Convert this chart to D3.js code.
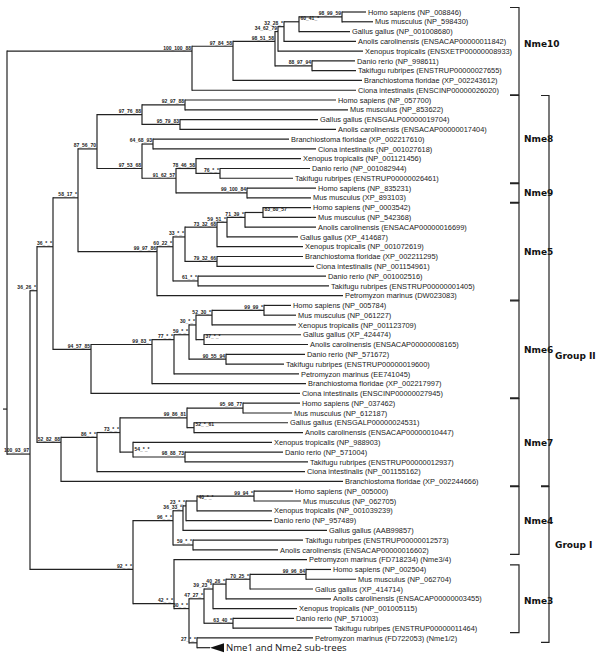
<!DOCTYPE html>
<html lang="en">
<head>
<meta charset="UTF-8">
<title>Nme phylogeny</title>
<script src="https://cdnjs.cloudflare.com/ajax/libs/d3/7.8.5/d3.min.js"></script>
<style>
  body { margin: 0; background: #fff; }
  svg { display: block; }
</style>
</head>
<body>
<script>
// internal nodes: id, parent, distance from root, bootstrap label, label side
var internalNodes = [
  ["root", "", 0, ""],
  ["A", "root", 1.85, "100_100_88"],
  ["A1", "A", 2.26, "97_84_58"],
  ["A2", "A1", 2.68, "98_51_58"],
  ["A3", "A2", 2.71, "34_62_79"],
  ["A4", "A3", 2.77, "32_28_*"],
  ["A5", "A4", 2.92, "60_41_*", "r"],
  ["A6", "A5", 3.35, "98_99_59"],
  ["A7", "A2", 3.05, "88_97_94"],
  ["B", "root", 0.23, "100_93_97"],
  ["C", "B", 0.30, "36_26_*"],
  ["D", "C", 0.46, "36_*_*"],
  ["E", "D", 0.71, "58_17_*"],
  ["F", "E", 0.90, "87_56_70"],
  ["F1", "F", 1.35, "97_76_88"],
  ["F2", "F1", 1.78, "92_97_88"],
  ["F3", "F1", 1.73, "95_79_83"],
  ["F4", "F", 1.35, "97_53_68"],
  ["F5", "F4", 1.46, "64_68_93"],
  ["F6", "F4", 1.69, "91_62_57"],
  ["F7", "F6", 1.89, "78_46_58"],
  ["F8", "F7", 2.13, "76_*_*"],
  ["F9", "F6", 2.40, "99_100_84"],
  ["G", "E", 1.50, "99_97_86"],
  ["G1", "G", 1.66, "60_22_*"],
  ["G2", "G1", 1.78, "33_*_*"],
  ["G3", "G2", 2.10, "73_32_68"],
  ["G4", "G3", 2.20, "59_51_*"],
  ["G5", "G4", 2.38, "71_39_*"],
  ["G6", "G5", 2.56, "83_80_57", "r"],
  ["G7", "G2", 2.10, "79_32_66"],
  ["G8", "G1", 1.91, "61_*_*"],
  ["H", "D", 0.84, "94_57_85"],
  ["H1", "H", 1.45, "99_83_*"],
  ["H2", "H1", 1.67, "77_*_*"],
  ["H3", "H2", 1.82, "59_*_*"],
  ["H4", "H3", 1.89, "30_*_*"],
  ["H5", "H4", 2.05, "52_30_*"],
  ["H6", "H5", 2.57, "99_99_*"],
  ["H7", "H4", 1.97, "37_*_*", "r"],
  ["H8", "H3", 2.19, "90_55_94"],
  ["I", "C", 0.54, "52_82_88"],
  ["I1", "I", 0.90, "86_*_*"],
  ["I2", "I1", 1.13, "73_*_*"],
  ["I3", "I2", 1.80, "99_86_81"],
  ["I4", "I3", 2.36, "95_98_77"],
  ["I5", "I3", 1.87, "52_*_61", "r"],
  ["I6", "I2", 1.26, "54_*_*", "r"],
  ["I7", "I6", 1.78, "98_88_73"],
  ["J", "B", 1.26, "92_*_*"],
  ["K", "J", 1.66, "96_*_*"],
  ["K1", "K", 1.76, "36_33_*"],
  ["K2", "K1", 1.79, "23_*_*"],
  ["K3", "K2", 1.90, "40_*_*", "r"],
  ["K4", "K3", 2.47, "99_94_*"],
  ["K5", "K", 1.86, "59_*_*"],
  ["L", "J", 1.67, "42_*_*"],
  ["L1", "L", 1.82, "30_*_*"],
  ["L2", "L1", 1.97, "47_27_*"],
  ["L3", "L2", 2.06, "39_23_*"],
  ["L4", "L3", 2.19, "40_26_*"],
  ["L5", "L4", 2.43, "70_25_*"],
  ["L6", "L5", 2.99, "99_96_84"],
  ["L7", "L2", 2.26, "63_40_*"],
  ["L8", "L1", 1.90, "27_*_*"]
];

var leafNames = [
  "Homo sapiens (NP_008846)", "Mus musculus (NP_598430)", "Gallus gallus (NP_001008680)",
  "Anolis carolinensis (ENSACAP00000011842)", "Xenopus tropicalis (ENSXETP00000008933)",
  "Danio rerio (NP_998611)", "Takifugu rubripes (ENSTRUP00000027655)",
  "Branchiostoma floridae (XP_002243612)", "Ciona intestinalis (ENSCINP00000026020)",
  "Homo sapiens (NP_057700)", "Mus musculus (NP_853622)", "Gallus gallus (ENSGALP00000019704)",
  "Anolis carolinensis (ENSACAP00000017404)", "Branchiostoma floridae (XP_002217610)",
  "Ciona intestinalis (NP_001027618)", "Xenopus tropicalis (NP_001121456)",
  "Danio rerio (NP_001082944)", "Takifugu rubripes (ENSTRUP00000026461)",
  "Homo sapiens (NP_835231)", "Mus musculus (XP_893103)",
  "Homo sapiens (NP_0003542)", "Mus musculus (NP_542368)", "Anolis carolinensis (ENSACAP00000016699)",
  "Gallus gallus (XP_414687)", "Xenopus tropicalis (NP_001072619)", "Branchiostoma floridae (XP_002211295)",
  "Ciona intestinalis (NP_001154961)", "Danio rerio (NP_001002516)", "Takifugu rubripes (ENSTRUP00000001405)",
  "Petromyzon marinus (DW023083)",
  "Homo sapiens (NP_005784)", "Mus musculus (NP_061227)", "Xenopus tropicalis (NP_001123709)",
  "Gallus gallus (XP_424474)", "Anolis carolinensis (ENSACAP00000008165)", "Danio rerio (NP_571672)",
  "Takifugu rubripes (ENSTRUP00000019600)", "Petromyzon marinus (EE741045)",
  "Branchiostoma floridae (XP_002217997)", "Ciona intestinalis (ENSCINP00000027945)",
  "Homo sapiens (NP_037462)", "Mus musculus (NP_612187)", "Gallus gallus (ENSGALP00000024531)",
  "Anolis carolinensis (ENSACAP00000010447)", "Xenopus tropicalis (NP_988903)", "Danio rerio (NP_571004)",
  "Takifugu rubripes (ENSTRUP00000012937)", "Ciona intestinalis (NP_001155162)",
  "Branchiostoma floridae (XP_002244666)",
  "Homo sapiens (NP_005000)", "Mus musculus (NP_062705)", "Xenopus tropicalis (NP_001039239)",
  "Danio rerio (NP_957489)", "Gallus gallus (AAB99857)", "Takifugu rubripes (ENSTRUP00000012573)",
  "Anolis carolinensis (ENSACAP00000016602)", "Petromyzon marinus (FD718234) (Nme3/4)",
  "Homo sapiens (NP_002504)", "Mus musculus (NP_062704)", "Gallus gallus (XP_414714)",
  "Anolis carolinensis (ENSACAP00000003455)", "Xenopus tropicalis (NP_001005115)",
  "Danio rerio (NP_571003)", "Takifugu rubripes (ENSTRUP00000011464)",
  "Petromyzon marinus (FD722053) (Nme1/2)",
  "Nme1 and Nme2 sub-trees"
];

var leafParents = [
  "A6", "A6", "A5", "A4", "A3", "A7", "A7", "A1", "A",
  "F2", "F2", "F3", "F3", "F5", "F5", "F7", "F8", "F8", "F9", "F9",
  "G6", "G6", "G5", "G4", "G3", "G7", "G7", "G8", "G8", "G",
  "H6", "H6", "H5", "H7", "H7", "H8", "H8", "H2", "H1", "H",
  "I4", "I4", "I5", "I5", "I6", "I7", "I7", "I1", "I",
  "K4", "K4", "K3", "K2", "K1", "K5", "K5", "L",
  "L6", "L6", "L5", "L4", "L3", "L7", "L7", "L8", "L8"
];

// distance from root of every tip
var leafTips = [
  3.59, 3.66, 3.43, 3.49, 3.56, 3.48, 3.49, 3.55, 3.49,
  3.29, 3.41, 3.11, 3.29, 2.82, 3.09, 2.94, 3.03, 2.86, 3.09, 3.04,
  3.04, 3.09, 3.09, 2.91, 2.96, 2.96, 3.07, 3.19, 3.22, 3.36,
  2.84, 2.89, 2.89, 2.94, 3.01, 2.98, 2.77, 2.92, 2.99, 2.93,
  2.93, 2.85, 2.81, 2.96, 2.65, 2.76, 3.01, 2.98, 3.36,
  2.86, 2.94, 2.65, 2.65, 3.20, 2.96, 2.71, 3.00,
  3.24, 3.49, 3.06, 3.24, 2.90, 2.87, 3.25, 3.06, 2.03
];

var collapsedLeaf = "Nme1 and Nme2 sub-trees";

// a few nodes sit away from the mean of their tips (row units)
var rowOverride = { root: 40.6, B: 45.2 };

var cladeNames = ["Nme10", "Nme8", "Nme9", "Nme5", "Nme6", "Nme7", "Nme4", "Nme3"];
var cladeFirst = [0, 9, 18, 20, 30, 40, 49, 57];
var cladeLast = [8, 17, 19, 29, 39, 48, 55, 63];
var cladeLabelRow = [3.2, 13, 18.5, 24.5, 34.5, 44, 52, 60.2];

var groupNames = ["Group II", "Group I"];
var groupFirst = [9, 49];
var groupLast = [48, 64];
var groupLabelRow = [35.1, 54.5];

var width = 600, height = 658;

var svg = d3.select("body").append("svg")
  .attr("width", width)
  .attr("height", height);

var x = d3.scaleLinear().domain([0, 4]).range([7, 407]);
var y = d3.scaleLinear().domain([0, 65]).range([12, 647.7]);

var table = internalNodes.map(function (n) {
  return { id: n[0], parent: n[1], dist: n[2], support: n[3], side: n[4] || "l" };
});
leafNames.forEach(function (name, i) {
  table.push({ id: "leaf" + i, parent: leafParents[i], dist: leafTips[i], name: name, row: i });
});

var root = d3.stratify()
  .id(function (d) { return d.id; })
  .parentId(function (d) { return d.parent === "" ? null : d.parent; })(table);

root.eachAfter(function (n) {
  n.px = x(n.data.dist);
  if (!n.children) {
    n.py = y(n.data.row);
  } else if (rowOverride[n.id] !== undefined) {
    n.py = y(rowOverride[n.id]);
  } else {
    n.py = d3.mean(n.leaves(), function (l) { return y(l.data.row); });
  }
});

var lineCol = "#222";
var g = svg.append("g")
  .attr("stroke", lineCol)
  .attr("stroke-width", 1.2)
  .attr("fill", "none");

// horizontal branches
root.descendants().filter(function (n) { return n.parent; }).forEach(function (n) {
  g.append("line")
    .attr("x1", n.parent.px).attr("x2", n.px)
    .attr("y1", n.py).attr("y2", n.py);
});

// vertical connectors
root.descendants().filter(function (n) { return n.children; }).forEach(function (n) {
  var ext = d3.extent(n.children, function (c) { return c.py; });
  g.append("line")
    .attr("x1", n.px).attr("x2", n.px)
    .attr("y1", ext[0] - 0.6).attr("y2", ext[1] + 0.6);
});

// root stub
g.append("line")
  .attr("x1", root.px - 4).attr("x2", root.px)
  .attr("y1", root.py).attr("y2", root.py);

// tip labels
var leaves = root.leaves();
leaves.forEach(function (l) {
  if (l.data.name === collapsedLeaf) {
    svg.append("path")
      .attr("d", "M" + l.px + "," + l.py + "L" + (l.px + 14) + "," + (l.py - 4.5) +
        "L" + (l.px + 14) + "," + (l.py + 4.5) + "Z")
      .attr("fill", "#111");
    svg.append("text")
      .attr("x", l.px + 16)
      .attr("y", l.py)
      .attr("dy", "0.36em")
      .attr("font-family", "'Open Sans', 'Noto Sans', sans-serif")
      .attr("font-size", 9.6)
      .attr("fill", "#111")
      .text(l.data.name);
  } else {
    svg.append("text")
      .attr("x", l.px + 2)
      .attr("y", l.py)
      .attr("dy", "0.36em")
      .attr("font-family", "'Liberation Sans', Arial, sans-serif")
      .attr("font-size", 7.4)
      .attr("fill", "#1a1a1a")
      .text(l.data.name);
  }
});

// bootstrap labels
root.descendants().filter(function (n) { return n.children && n.data.support; }).forEach(function (n) {
  var right = n.data.side === "r";
  svg.append("text")
    .attr("x", right ? n.px + 1.5 : n.px - 1)
    .attr("y", n.py - 1.6)
    .attr("text-anchor", right ? "start" : "end")
    .attr("font-family", "'Liberation Sans', Arial, sans-serif")
    .attr("font-weight", "bold")
    .attr("font-size", 5)
    .attr("fill", "#222")
    .text(n.data.support);
});

// clade brackets
function bracket(x0, len, top, bottom) {
  svg.append("path")
    .attr("d", "M" + (x0 - len) + "," + top + "H" + x0 + "V" + bottom + "H" + (x0 - len))
    .attr("fill", "none")
    .attr("stroke", lineCol)
    .attr("stroke-width", 1.2);
}

function bracketLabel(xPos, row, name) {
  svg.append("text")
    .attr("x", xPos)
    .attr("y", y(row))
    .attr("dy", "0.36em")
    .attr("font-family", "'DejaVu Sans', Verdana, sans-serif")
    .attr("font-weight", "bold")
    .attr("font-size", 9)
    .attr("fill", "#111")
    .text(name);
}

cladeNames.forEach(function (name, i) {
  bracket(519, 9, y(cladeFirst[i]) - 4.5, y(cladeLast[i]) + 4.5);
  bracketLabel(524, cladeLabelRow[i], name);
});

groupNames.forEach(function (name, i) {
  bracket(549, 8, y(groupFirst[i]) - 4.5, y(groupLast[i]) + 4.5);
  bracketLabel(555, groupLabelRow[i], name);
});
</script>
</body>
</html>
